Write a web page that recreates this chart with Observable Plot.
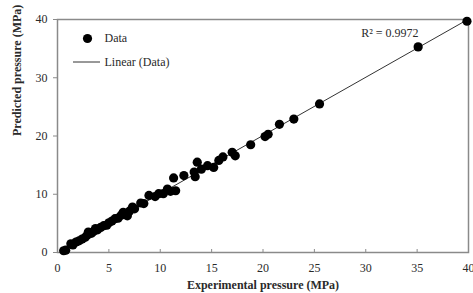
<!DOCTYPE html>
<html>
<head>
<meta charset="utf-8">
<script src="https://cdn.jsdelivr.net/npm/d3@7"></script>
<script src="https://cdn.jsdelivr.net/npm/@observablehq/plot@0.6"></script>
<style>
  html, body { margin: 0; padding: 0; background: #fff; }
  svg, svg text { font-family: "Liberation Serif", "Times New Roman", serif !important; }
</style>
</head>
<body>
<div id="chart"></div>
<script>
const experimental = [0.6, 0.8, 1.3, 1.5, 1.8, 2.1, 2.4, 2.7, 2.9, 3.0, 3.3, 3.5, 3.7, 3.9, 4.2, 4.5, 4.8, 5.0, 5.3, 5.6, 5.9, 6.2, 6.4, 6.6, 6.8, 7.0, 7.3, 7.5, 8.1, 8.4, 8.9, 9.5, 9.85, 10.3, 10.7, 11.0, 11.3, 11.5, 12.3, 13.3, 13.4, 13.6, 14.0, 14.6, 15.2, 15.7, 16.1, 17.0, 17.3, 18.8, 20.2, 20.5, 21.6, 23.0, 25.5, 35.1, 39.85];
const predicted    = [0.3, 0.4, 1.5, 1.3, 1.8, 2.0, 2.3, 2.6, 3.0, 3.5, 3.3, 3.6, 4.1, 3.9, 4.3, 4.6, 4.7, 5.1, 5.4, 5.8, 5.9, 6.4, 6.9, 6.5, 6.3, 7.1, 7.8, 7.5, 8.5, 8.4, 9.8, 9.6, 10.1, 10.1, 10.9, 10.5, 12.8, 10.6, 13.2, 13.8, 13.0, 15.5, 14.3, 14.9, 14.6, 15.8, 16.4, 17.2, 16.6, 18.5, 19.9, 20.3, 22.0, 22.9, 25.5, 35.3, 39.7];
const xTicks = [0, 5, 10, 15, 20, 25, 30, 35, 40];
const yTicks = [0, 10, 20, 30, 40];
const legendLabels = ["Data", "Linear (Data)"];
const r2Label = "R² = 0.9972";

const data = experimental.map((x, i) => ({x, y: predicted[i]}));

const font = "'Liberation Serif', 'Times New Roman', serif";
const txt = "#2a2a2a";

const chart = Plot.plot({
  width: 473,
  height: 293,
  marginLeft: 57,
  marginRight: 5,
  marginTop: 19,
  marginBottom: 41,
  style: {fontFamily: font, fontSize: "12px", color: txt, background: "#fff"},
  x: {domain: [0, 40], label: null},
  y: {domain: [0, 40], label: null},
  marks: [
    Plot.frame({stroke: "#8a8a8a", strokeWidth: 1.5}),
    Plot.axisX({ticks: xTicks, tickSize: -3, tickPadding: 14, stroke: "#8a8a8a", fontSize: 12, fill: txt}),
    Plot.axisY({ticks: yTicks, tickSize: 4, tickPadding: 6, stroke: "#8a8a8a", fontSize: 12, fill: txt}),
    Plot.linearRegressionY(data, {x: "x", y: "y", ci: 0, stroke: "#333", strokeWidth: 1}),
    Plot.dot(data, {x: "x", y: "y", r: 4.6, fill: "#000", stroke: "none"}),
    // legend
    Plot.dot([legendLabels[0]], {frameAnchor: "top-left", dx: 30, dy: 19, r: 4.6, fill: "#000"}),
    Plot.text([legendLabels[0]], {frameAnchor: "top-left", lineAnchor: "middle", dx: 47, dy: 19, text: d => d, textAnchor: "start", fontSize: 12, fill: txt}),
    Plot.text([legendLabels[1]], {frameAnchor: "top-left", lineAnchor: "middle", dx: 47, dy: 43, text: d => d, textAnchor: "start", fontSize: 12, fill: txt}),
    Plot.text([r2Label], {frameAnchor: "top-right", lineAnchor: "middle", dx: -50, dy: 14, text: d => d, textAnchor: "end", fontSize: 12, fill: txt}),
    Plot.text(["Experimental pressure (MPa)"], {frameAnchor: "bottom", lineAnchor: "middle", dy: 33, text: d => d, fontSize: 12, fontWeight: "bold", fill: txt}),
    Plot.text(["Predicted pressure (MPa)"], {frameAnchor: "left", dx: -40, rotate: -90, text: d => d, fontSize: 12, fontWeight: "bold", fill: txt})
  ]
});

document.getElementById("chart").appendChild(chart);
const ns = "http://www.w3.org/2000/svg";
const line = document.createElementNS(ns, "line");
line.setAttribute("x1", 73); line.setAttribute("x2", 100);
line.setAttribute("y1", 62); line.setAttribute("y2", 62);
line.setAttribute("stroke", "#333"); line.setAttribute("stroke-width", 1);
chart.appendChild(line);
</script>
</body>
</html>
